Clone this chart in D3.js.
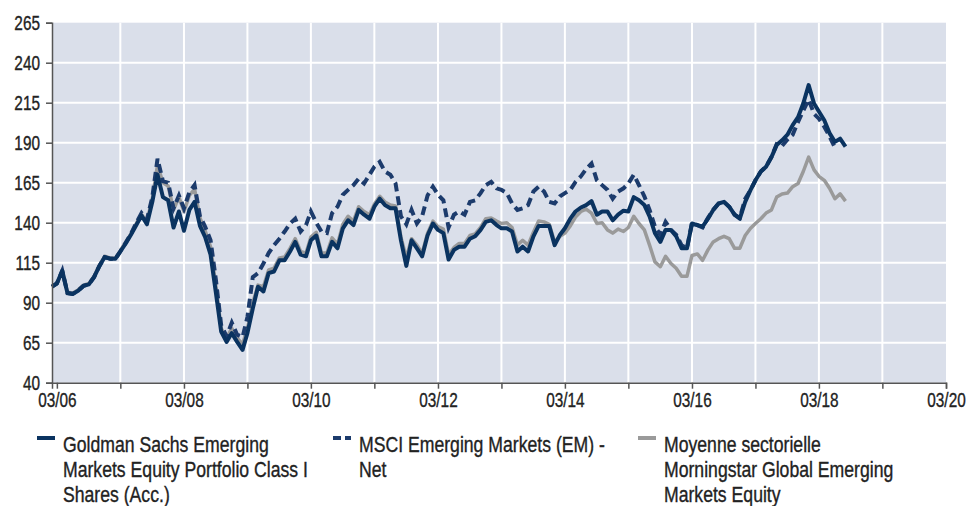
<!DOCTYPE html>
<html>
<head>
<meta charset="utf-8">
<script src="https://cdn.jsdelivr.net/npm/d3@7"></script>
<style>
  body { margin: 0; background: #fff; }
  svg text { font-family: "Liberation Sans", Arial, sans-serif; fill: #222; stroke: #222; stroke-width: 0.35px; }
</style>
</head>
<body>
<div id="chart"></div>
<script>
// monthly points, first one = Feb 2006
const startMonth = new Date(2006, 1, 1);

const seriesNames = [
  ["Goldman Sachs Emerging", "Markets Equity Portfolio Class I", "Shares (Acc.)"],
  ["MSCI Emerging Markets (EM) -", "Net"],
  ["Moyenne sectorielle", "Morningstar Global Emerging", "Markets Equity"]
];

const fundValues = [
  100, 102, 110, 96, 95.5, 97.5, 100.5, 101.5, 106, 113, 118.5, 117.5, 117.5, 122, 127, 132.5,
  138.5, 144.5, 139, 153, 170, 156, 154, 137, 147, 135, 148, 153, 138, 131, 120, 96,
  72, 65.5, 71, 65.5, 60.5, 71, 86.5, 100, 97, 108.5, 109.5, 116.5, 116.5, 122, 128, 120,
  119, 129, 132, 119, 119, 128, 124, 136.5, 141.5, 138.5, 148, 145, 142.5, 150, 155, 151,
  149, 149, 129, 113, 129, 124, 119, 132, 139.5, 135.5, 133.5, 117, 123, 125, 125, 130,
  131.5, 135.5, 140.5, 141.5, 138.5, 136.5, 136.5, 134.5, 122, 125, 122, 131.5, 138, 138, 138, 126,
  132.5, 136.5, 142.5, 147, 149.5, 151, 153.5, 145, 147, 147, 141.5, 145, 147.5, 147, 156, 154,
  151, 144, 133.5, 128, 135.5, 135.5, 131.5, 124, 124, 139.5, 138.5, 137.5, 142.5, 148, 152, 153,
  150, 145, 142.5, 153, 160.5, 166.5, 172, 175, 181, 188.5, 191.5, 195, 201, 206, 214.5, 226,
  214.5, 209.5, 204, 196, 190.5, 192.5, 187.5
];

const indexValues = [
  100, 102, 110, 96, 95.5, 97.5, 100.5, 101.5, 106, 113, 118.5, 117.5, 117.5, 122, 127.5, 133,
  140, 146, 142, 156, 180, 166, 165, 149, 157, 149, 159, 163.5, 144, 137.5, 129, 104,
  76, 69, 77.5, 70, 68.5, 81, 106, 108.5, 114.5, 121, 126, 130, 134.5, 139.5, 142.5, 134.5,
  138.5, 147, 140, 134.5, 133.5, 146, 150, 157.5, 160.5, 163.5, 167.5, 164.5, 170, 175, 178, 172,
  170, 164.5, 144, 139, 148, 139.5, 144, 157, 162.5, 157.5, 154, 137, 145, 147, 145, 153,
  154, 158.5, 163.5, 165.5, 161.5, 160.5, 158.5, 152, 148, 149, 151, 159.5, 162.5, 159.5, 153, 152,
  156.5, 158.5, 160.5, 165.5, 169, 173.5, 177, 166.5, 163.5, 160.5, 155, 159.5, 161.5, 164.5, 170, 163.5,
  156.5, 148, 137.5, 132.5, 140.5, 135.5, 132.5, 126, 124, 140, 138.5, 137, 143, 148, 152, 153,
  150, 145, 143, 155, 160.5, 166.5, 172, 175, 181, 189, 188, 192, 195, 203, 210, 217,
  208, 205, 200, 194, 187
];

const categoryValues = [
  100, 102, 109.5, 96.5, 96, 98, 101, 102, 106.5, 113.5, 119, 118, 118, 122.5, 128, 133,
  139.5, 145, 141, 155, 176, 165, 163, 148, 156, 147, 157, 161, 143, 135, 125, 100,
  74, 68, 74, 68, 64, 74, 90, 101, 100, 110.5, 111.5, 118, 118.5, 124, 130, 122,
  121, 131, 134, 121, 121, 130.5, 126.5, 139, 144, 141, 150, 147, 145, 151.5, 156.5, 153,
  151, 150.5, 131, 118, 130, 126, 121, 133.5, 141, 137.5, 136, 120, 124.5, 127, 127, 132,
  133, 137, 142.5, 143, 141, 139.5, 140, 137, 126, 129, 126, 134, 141, 140.5, 139, 128,
  131.5, 133.5, 138, 143.5, 147, 148.5, 146, 139.5, 140, 135.5, 133.5, 136, 134.5, 137, 144, 139.5,
  135.5, 126, 115.5, 112.5, 119, 114.5, 111.5, 106.5, 106.5, 119.5, 120.5, 116.5, 123, 128, 130, 131.5,
  130, 124, 124, 132, 136.5, 139.5, 142.5, 146, 148, 156, 158, 158.5, 162.5, 164.5, 172, 181,
  173, 169, 166.5, 161.5, 155, 158, 153.5
];

const yTicks = [40, 65, 90, 115, 140, 165, 190, 215, 240, 265];
const xTickYears = d3.range(2006, 2021);

var svgWidth = 967;
var svgHeight = 506;
var margin = { top: 22.7, right: 21, bottom: 123.3, left: 52 };
var chartWidth = svgWidth - margin.left - margin.right;
var chartHeight = svgHeight - margin.top - margin.bottom;

// condensed look: Liberation Sans squeezed horizontally
var axisSqueeze = 0.75;
var legendSqueeze = 0.82;

var svg = d3.select("#chart").append("svg")
  .attr("width", svgWidth)
  .attr("height", svgHeight);

var chartGroup = svg.append("g")
  .attr("transform", `translate(${margin.left}, ${margin.top})`);

function toRows(values) {
  return values.map((v, i) => ({ date: d3.timeMonth.offset(startMonth, i), value: v }));
}
var fund = toRows(fundValues);
var index = toRows(indexValues);
var category = toRows(categoryValues);

var xTimeScale = d3.scaleTime()
  .domain([startMonth, new Date(2020, 2, 1)])
  .range([0, chartWidth]);

var yLinearScale = d3.scaleLinear()
  .domain([40, 265])
  .range([chartHeight, 0]);

var tickDates = xTickYears.map(y => new Date(y, 2, 1));

// background + grid
chartGroup.append("rect")
  .attr("width", chartWidth)
  .attr("height", chartHeight)
  .attr("fill", "#dadfea");

chartGroup.append("g")
  .selectAll("line")
  .data(yTicks.slice(1, -1))
  .join("line")
  .attr("x1", 0).attr("x2", chartWidth)
  .attr("y1", d => yLinearScale(d)).attr("y2", d => yLinearScale(d))
  .attr("stroke", "#fff").attr("stroke-width", 2);

chartGroup.append("g")
  .selectAll("line")
  .data(tickDates.slice(1, -1))
  .join("line")
  .attr("x1", d => xTimeScale(d)).attr("x2", d => xTimeScale(d))
  .attr("y1", 0).attr("y2", chartHeight)
  .attr("stroke", "#fff").attr("stroke-width", 2);

// lines
var drawLine = d3.line()
  .x(d => xTimeScale(d.date))
  .y(d => yLinearScale(d.value));

chartGroup.append("path")
  .attr("d", drawLine(category))
  .attr("fill", "none")
  .attr("stroke", "#9a9a9a")
  .attr("stroke-width", 3.5)
  .attr("stroke-linejoin", "round");

chartGroup.append("path")
  .attr("d", drawLine(index))
  .attr("fill", "none")
  .attr("stroke", "#1c3b6c")
  .attr("stroke-width", 4)
  .attr("stroke-dasharray", "9,5");

chartGroup.append("path")
  .attr("d", drawLine(fund))
  .attr("fill", "none")
  .attr("stroke", "#0a3360")
  .attr("stroke-width", 4)
  .attr("stroke-linejoin", "round");

// axes
var leftAxis = d3.axisLeft(yLinearScale)
  .tickValues(yTicks)
  .tickSize(6)
  .tickPadding(5)
  .tickFormat(d3.format("d"));

var bottomAxis = d3.axisBottom(xTimeScale)
  .tickValues(tickDates)
  .tickSize(6)
  .tickPadding(4)
  .tickFormat(d => (d.getFullYear() % 2 === 0 ? d3.timeFormat("%m/%y")(d) : ""));

var yAxisG = chartGroup.append("g").call(leftAxis);
var xAxisG = chartGroup.append("g")
  .attr("transform", `translate(0, ${chartHeight})`)
  .call(bottomAxis);

[yAxisG, xAxisG].forEach(g => {
  g.select(".domain").attr("stroke", "#555").attr("stroke-width", 1.5);
  g.selectAll(".tick line").attr("stroke", "#555").attr("stroke-width", 1.5);
  g.selectAll("text")
    .attr("fill", "#222")
    .attr("font-family", null)
    .attr("font-size", null)
    .style("font-size", "20.5px")
    .attr("transform", `scale(${axisSqueeze},1)`);
});
yAxisG.selectAll("text").attr("x", -12 / axisSqueeze);

// legend
var legendCols = [37, 333, 638];
var legendStyles = [
  { color: "#0a3360", dash: null, width: 4 },
  { color: "#1c3b6c", dash: "8,4", width: 4 },
  { color: "#9a9a9a", dash: null, width: 4 }
];

var legend = svg.append("g");
seriesNames.forEach((lines, i) => {
  var col = legend.append("g").attr("transform", `translate(${legendCols[i]}, 0)`);
  col.append("line")
    .attr("x1", 0).attr("x2", 18)
    .attr("y1", 438).attr("y2", 438)
    .attr("stroke", legendStyles[i].color)
    .attr("stroke-width", legendStyles[i].width)
    .attr("stroke-dasharray", legendStyles[i].dash);
  var t = col.append("g")
    .attr("transform", `translate(26, 452) scale(${legendSqueeze},1)`)
    .append("text")
    .style("font-size", "21.5px");
  lines.forEach((s, j) => {
    t.append("tspan").attr("x", 0).attr("y", j * 25).text(s);
  });
});
</script>
</body>
</html>
